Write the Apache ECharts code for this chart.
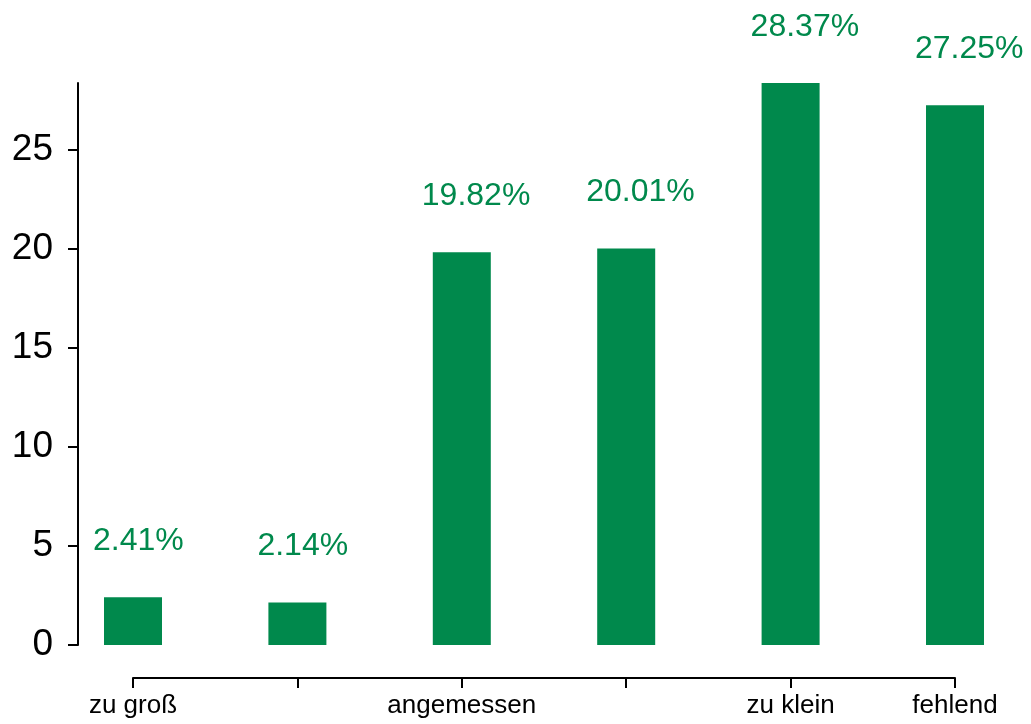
<!DOCTYPE html>
<html>
<head>
<meta charset="utf-8">
<script src="https://cdn.jsdelivr.net/npm/echarts@6/dist/echarts.min.js"></script>
<style>
  html, body { margin: 0; padding: 0; background: #fff; }
  #chart { width: 1031px; height: 724px; }
</style>
</head>
<body>
<div id="chart"></div>
<script>
// categories (blank ones keep a tick but no label)
const categories = ['zu groß', '', 'angemessen', '', 'zu klein', 'fehlend']
const shares = [2.41, 2.14, 19.82, 20.01, 28.37, 27.25]
const yTicks = [0, 5, 10, 15, 20, 25]

const green = '#00894c'
const font = '"Liberation Sans", Arial, Helvetica, sans-serif'

const chart = echarts.init(document.getElementById('chart'))

chart.setOption({
  animation: false,
  grid: {
    left: 133,
    right: 76,
    top: 83,
    bottom: 79
  },
  xAxis: {
    type: 'category',
    data: categories,
    boundaryGap: false,
    offset: 33,
    axisLine: { onZero: false, lineStyle: { color: '#000', width: 2 } },
    axisTick: { length: 10, lineStyle: { color: '#000', width: 2 } },
    axisLabel: {
      interval: 0,
      margin: 15,
      color: '#000',
      fontSize: 26,
      fontFamily: font
    },
    splitLine: { show: false }
  },
  yAxis: {
    type: 'value',
    min: 0,
    max: 'dataMax',
    offset: 55,
    axisLine: { show: true, lineStyle: { color: '#000', width: 2 } },
    axisTick: {
      show: true,
      length: 10,
      customValues: yTicks,
      lineStyle: { color: '#000', width: 2 }
    },
    axisLabel: {
      customValues: yTicks,
      margin: 25,
      color: '#000',
      fontSize: 37,
      fontFamily: font
    },
    splitLine: { show: false }
  },
  series: [
    {
      type: 'bar',
      data: shares,
      barWidth: 58,
      clip: false,
      itemStyle: { color: green },
      label: {
        show: true,
        position: 'top',
        distance: 40,
        align: 'left',
        offset: [-40, 0],
        formatter: '{c}%',
        color: green,
        fontSize: 32,
        fontFamily: font
      }
    }
  ]
})
</script>
</body>
</html>
